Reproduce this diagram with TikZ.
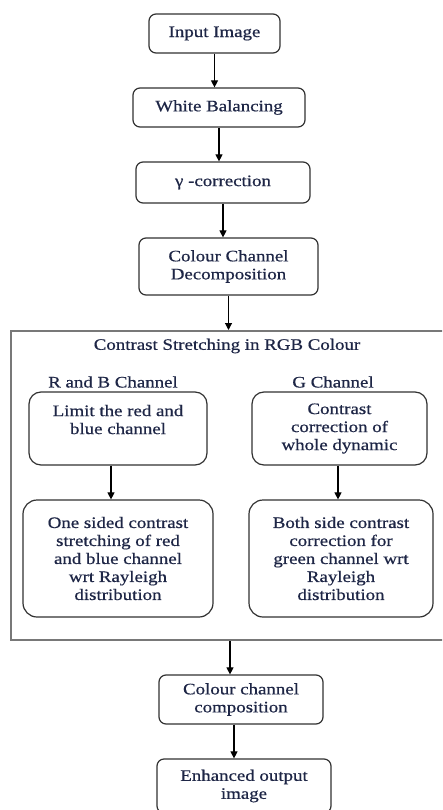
\documentclass[tikz,border=0pt]{standalone}
\usepackage{fontspec}
\setmainfont[FakeStretch=1.18,FakeBold=0.6]{Liberation Serif}
\usetikzlibrary{arrows.meta}
\definecolor{txt}{RGB}{30,38,70}
\definecolor{edge}{RGB}{50,50,50}
\definecolor{framecol}{RGB}{120,120,120}
\begin{document}
\begin{tikzpicture}[x=1pt,y=-1pt,
  box/.style={draw=edge, line width=1.2pt, rounded corners=7pt, align=center, inner sep=0pt, text=txt, font=\fontsize{16}{18}\selectfont},
  bigbox/.style={box, rounded corners=14pt},
  arr/.style={draw=black, line width=1.1pt, -{Triangle[length=7pt,width=7pt]}},
  lbl/.style={text=txt, inner sep=0pt, font=\fontsize{16}{18}\selectfont},
  outer/.style={draw=framecol, line width=2pt, inner sep=0pt}]
\useasboundingbox (0,0) rectangle (442,810);
\clip (0,0) rectangle (442,810);
\fill[white] (0,0) rectangle (442,810);

\node[box, minimum width=131pt, minimum height=39pt] (in) at (214.5,33.5) {Input Image};
\node[box, minimum width=172pt, minimum height=39pt] (wb) at (219,107.5) {White Balancing};
\node[box, minimum width=174pt, minimum height=41pt] (gc) at (223,182.5) {γ -correction};
\node[box, minimum width=179pt, minimum height=57pt] (ccd) at (228.5,266.5) {Colour Channel\\Decomposition};

\node[outer, minimum width=450pt, minimum height=309pt] (rgb) at (236,485.5) {};
\node[lbl] (title) at (227,346) {Contrast Stretching in RGB Colour};
\node[lbl] (rbl) at (113,382) {R and B Channel};
\node[lbl] (gl) at (333,382) {G Channel};

\node[box, rounded corners=12pt, minimum width=178pt, minimum height=73pt] (lim) at (118,428.5) {Limit the red and\\blue channel\\~};
\node[box, rounded corners=12pt, minimum width=175pt, minimum height=73pt] (cc) at (339.5,428.5) {Contrast\\correction of\\whole dynamic};
\node[bigbox, minimum width=190pt, minimum height=117pt] (one) at (118,558.5) {One sided contrast\\stretching of red\\and blue channel\\wrt Rayleigh\\distribution};
\node[bigbox, minimum width=184pt, minimum height=117pt] (both) at (341,558.5) {Both side contrast\\correction for\\green channel wrt\\Rayleigh\\distribution};

\node[box, minimum width=164pt, minimum height=49pt] (ccc) at (241,699.5) {Colour channel\\composition};
\node[box, minimum width=174pt, minimum height=54pt] (eo) at (244,786) {Enhanced output\\image};

\coordinate (xl) at (111,0);
\coordinate (xr) at (338,0);
\coordinate (xc) at (230,0);
\coordinate (xd) at (234,0);

\draw[arr] (in.south) -- (in.south |- wb.north);
\draw[arr] (wb.south) -- (wb.south |- gc.north);
\draw[arr] (gc.south) -- (gc.south |- ccd.north);
\draw[arr] (ccd.south) -- (ccd.south |- rgb.north);
\draw[arr] (lim.south -| xl) -- (one.north -| xl);
\draw[arr] (cc.south -| xr) -- (both.north -| xr);
\draw[arr] (rgb.south -| xc) -- (ccc.north -| xc);
\draw[arr] (ccc.south -| xd) -- (eo.north -| xd);
\end{tikzpicture}
\end{document}
